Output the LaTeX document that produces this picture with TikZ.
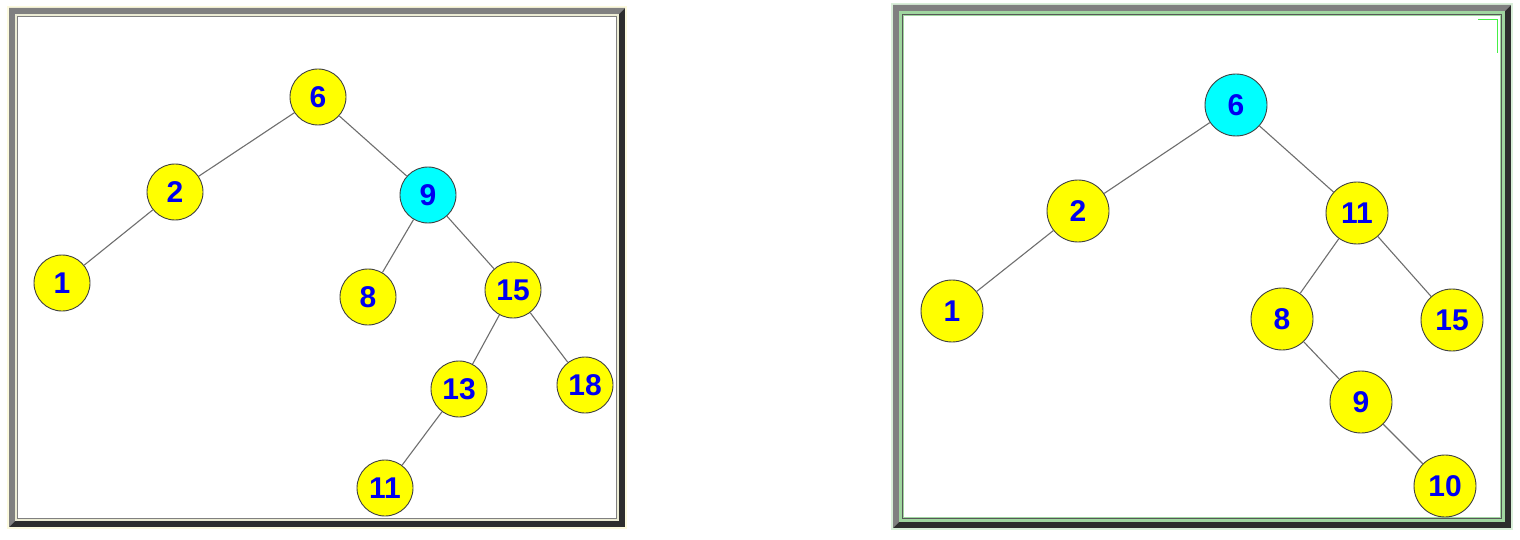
\documentclass[tikz,border=0pt]{standalone}
\usepackage{fontspec}
\setmainfont{Liberation Sans}
\definecolor{frgray}{RGB}{128,128,128}
\definecolor{frdark}{RGB}{45,45,45}
\definecolor{frpale}{RGB}{236,236,212}
\definecolor{frgreen}{RGB}{160,214,160}
\definecolor{frhalo}{RGB}{252,250,222}
\definecolor{edgegray}{RGB}{110,110,110}
\definecolor{nodeborder}{RGB}{64,64,64}
\definecolor{numblue}{RGB}{0,0,240}
\definecolor{brightgreen}{RGB}{70,240,70}
\definecolor{nodeyellow}{RGB}{255,255,0}
\definecolor{nodecyan}{RGB}{0,255,255}
\tikzset{
  tnode/.style={circle, inner sep=0pt, minimum size=56pt, fill=nodeyellow, draw=nodeborder, line width=0.9pt,
    text=numblue, font=\fontsize{30}{30}\selectfont\bfseries},
  bignode/.style={tnode, minimum size=62pt},
  hot/.style={fill=nodecyan},
  tedge/.style={draw=edgegray, line width=1.1pt}
}
\begin{document}
\begin{tikzpicture}[x=1pt,y=-1pt]
\useasboundingbox (0,0) rectangle (1520,540);
\fill[white] (0,0) rectangle (1520,540);
% ---------- left frame ----------
\draw[frhalo, line width=1.5pt] (8,7) rectangle (626,528);
\fill[frdark] (9,8) rectangle (625,527);
\fill[frgray] (9,527) -- (9,8) -- (625,8) -- (619,14) -- (15,14) -- (15,521) -- cycle;
\fill[frpale] (15,14) rectangle (619,521);
\draw[frgray, line width=1pt] (17.5,16.5) rectangle (616.5,518.5);
\fill[white] (18,17) rectangle (616,518);
% ---------- right frame ----------
\draw[frgreen!40, line width=1.5pt] (892,4) rectangle (1512,529);
\fill[frdark] (893,5) rectangle (1511,528);
\fill[frgray] (893,528) -- (893,5) -- (1511,5) -- (1505,11) -- (899,11) -- (899,522) -- cycle;
\fill[frgreen] (899,11) rectangle (1505,522);
\draw[frdark!80, line width=1pt] (902.5,14.5) rectangle (1501.5,518.5);
\fill[white] (904,16) rectangle (1500,517);
\draw[brightgreen, line width=1pt] (1478,19.5) -- (1497.5,19.5) -- (1497.5,53);
% ---------- left tree ----------
\node[tnode] (L6) at (318,97) {6};
\node[tnode] (L2) at (175,192) {2};
\node[tnode, hot] (L9) at (428,195) {9};
\node[tnode] (L1) at (62,283) {1};
\node[tnode] (L8) at (368,297) {8};
\node[tnode] (L15) at (513,290) {15};
\node[tnode] (L13) at (459,389) {13};
\node[tnode] (L18) at (585,385) {18};
\node[tnode] (L11) at (385,488) {11};
\draw[tedge] (L6) -- (L2);
\draw[tedge] (L6) -- (L9);
\draw[tedge] (L2) -- (L1);
\draw[tedge] (L9) -- (L8);
\draw[tedge] (L9) -- (L15);
\draw[tedge] (L15) -- (L13);
\draw[tedge] (L15) -- (L18);
\draw[tedge] (L13) -- (L11);
% ---------- right tree ----------
\node[bignode, hot] (R6) at (1236,105) {6};
\node[bignode] (R2) at (1078,211) {2};
\node[bignode] (R11) at (1357,213) {11};
\node[bignode] (R1) at (952,311) {1};
\node[bignode] (R8) at (1282,319) {8};
\node[bignode] (R15) at (1452,320) {15};
\node[bignode] (R9) at (1361,402) {9};
\node[bignode] (R10) at (1445,486) {10};
\draw[tedge] (R6) -- (R2);
\draw[tedge] (R6) -- (R11);
\draw[tedge] (R2) -- (R1);
\draw[tedge] (R11) -- (R8);
\draw[tedge] (R11) -- (R15);
\draw[tedge] (R8) -- (R9);
\draw[tedge] (R9) -- (R10);
\end{tikzpicture}
\end{document}
